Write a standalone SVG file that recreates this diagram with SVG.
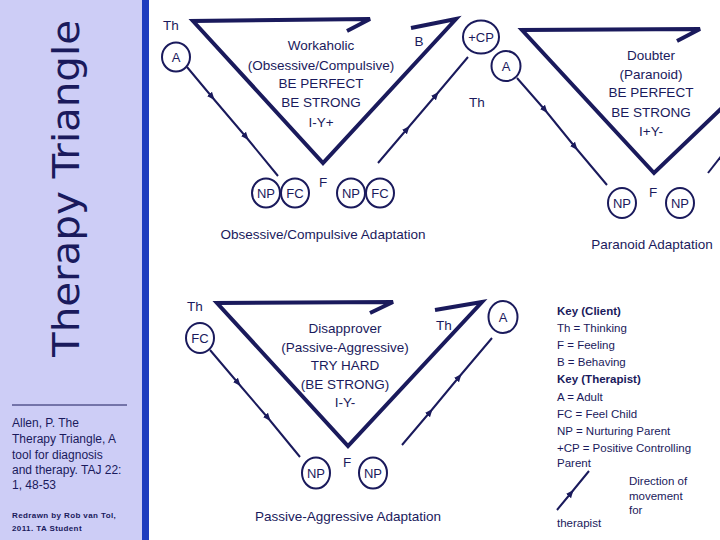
<svg xmlns="http://www.w3.org/2000/svg" width="720" height="540" viewBox="0 0 720 540">
<style>
  .tri{fill:none;stroke:#1a1a5c;stroke-width:4;stroke-linejoin:miter;stroke-linecap:butt}
  .tl{fill:none;stroke:#1a1a5c;stroke-width:2;marker-mid:url(#tick)}
  .nd{fill:#fff;stroke:#1a1a5c;stroke-width:2}
  text{font-family:"Liberation Sans",Arial,sans-serif;fill:#1a1a5c}
  .t{font-size:13.5px;text-anchor:middle}
  .c{font-size:13px;text-anchor:middle}
  .k{font-size:11.5px}
  .kb{font-size:11.5px;font-weight:bold}
  .cit{font-size:12px}
</style>
<defs>
  <marker id="tick" markerUnits="userSpaceOnUse" markerWidth="8" markerHeight="8" refX="3" refY="3" orient="auto" viewBox="0 0 6 6">
    <path d="M0,0.5 L6,3 L0,5.5 z" fill="#1a1a5c"/>
  </marker>
</defs>

<g id="sidebar">
  <rect x="0" y="0" width="142" height="540" fill="#cdcdf6"/>
  <rect x="142" y="0" width="7" height="540" fill="#1e3cbf"/>
  <text transform="translate(79,357) rotate(-90)" font-family="DejaVu Sans, sans-serif" style="font-family:'DejaVu Sans',sans-serif;font-size:38px" textLength="337" lengthAdjust="spacingAndGlyphs">Therapy Triangle</text>
  <line x1="12" y1="405" x2="127" y2="405" stroke="#1a1a5c" stroke-width="1"/>
  <text class="cit" x="12" y="427">Allen, P. The</text>
  <text class="cit" x="12" y="443">Therapy Triangle, A</text>
  <text class="cit" x="12" y="459">tool for diagnosis</text>
  <text class="cit" x="12" y="474">and therapy. TAJ 22:</text>
  <text class="cit" x="12" y="489">1, 48-53</text>
  <text x="12" y="518" style="font-size:8px;font-weight:bold" letter-spacing="0.4">Redrawn by Rob van Tol,</text>
  <text x="12" y="531" style="font-size:8px;font-weight:bold" letter-spacing="0.4">2011. TA Student</text>
</g>

<g id="connectors">
  <path class="tri" d="M347,31 L370,19 L193,21 L323,163 L456,19 L411,28"/>
  <path class="tri" d="M677,41 L700,29 L522,30 L654,173 L770,62"/>
  <path class="tri" d="M370,313 L393,302 L217,303 L348,446 L482,302 L435,310"/>
  <path class="tl" d="M187,67 L212,97 L246,137 L278,176"/>
  <path class="tl" d="M378,163 L407,129 L436,95 L468,57"/>
  <path class="tl" d="M517,78 L545,110 L575,147 L607,185"/>
  <path class="tl" d="M708,173 L730,145"/>
  <path class="tl" d="M210,350 L238,383 L268,418 L300,457"/>
  <path class="tl" d="M402,445 L430,412 L459,377 L492,338"/>
  <path class="tl" d="M557,510 L571,493 L589,471"/>
</g>

<g id="oc-labels">
  <text class="t" x="171" y="30">Th</text>
  <text class="t" x="419" y="46">B</text>
  <text class="t" x="323" y="187">F</text>
  <text class="t" x="477" y="107">Th</text>
  <text class="t" x="321" y="50">Workaholic</text>
  <text class="t" x="321" y="70">(Obsessive/Compulsive)</text>
  <text class="t" x="321" y="88">BE PERFECT</text>
  <text class="t" x="321" y="107">BE STRONG</text>
  <text class="t" x="321" y="127">I-Y+</text>
  <text class="t" x="323" y="239">Obsessive/Compulsive Adaptation</text>
</g>
<g id="oc-A"><ellipse class="nd" cx="176" cy="57" rx="14" ry="14.5"/><text class="c" x="176" y="62">A</text></g>
<g id="oc-NP1"><ellipse class="nd" cx="266" cy="193" rx="14" ry="14.5"/><text class="c" x="266" y="198">NP</text></g>
<g id="oc-FC1"><ellipse class="nd" cx="295" cy="193" rx="14" ry="14.5"/><text class="c" x="295" y="198">FC</text></g>
<g id="oc-NP2"><ellipse class="nd" cx="351" cy="193" rx="14" ry="14.5"/><text class="c" x="351" y="198">NP</text></g>
<g id="oc-FC2"><ellipse class="nd" cx="380" cy="193" rx="14" ry="14.5"/><text class="c" x="380" y="198">FC</text></g>
<g id="CP"><ellipse class="nd" cx="481" cy="37" rx="18" ry="16.5"/><text class="c" x="481" y="42">+CP</text></g>
<g id="p-A"><ellipse class="nd" cx="506" cy="66" rx="14.5" ry="15"/><text class="c" x="506" y="71">A</text></g>

<g id="p-labels">
  <text class="t" x="653" y="197">F</text>
  <text class="t" x="651" y="60">Doubter</text>
  <text class="t" x="651" y="79">(Paranoid)</text>
  <text class="t" x="651" y="97">BE PERFECT</text>
  <text class="t" x="651" y="117">BE STRONG</text>
  <text class="t" x="651" y="136">I+Y-</text>
  <text class="t" x="652" y="249">Paranoid Adaptation</text>
</g>
<g id="p-NP1"><ellipse class="nd" cx="622" cy="203" rx="14" ry="15"/><text class="c" x="622" y="208">NP</text></g>
<g id="p-NP2"><ellipse class="nd" cx="680" cy="203" rx="14" ry="15"/><text class="c" x="680" y="208">NP</text></g>

<g id="pa-labels">
  <text class="t" x="195" y="311">Th</text>
  <text class="t" x="444" y="330">Th</text>
  <text class="t" x="347" y="467">F</text>
  <text class="t" x="345" y="333">Disapprover</text>
  <text class="t" x="345" y="352">(Passive-Aggressive)</text>
  <text class="t" x="345" y="370">TRY HARD</text>
  <text class="t" x="345" y="389">(BE STRONG)</text>
  <text class="t" x="345" y="407">I-Y-</text>
  <text class="t" x="348" y="521">Passive-Aggressive Adaptation</text>
</g>
<g id="pa-FC"><ellipse class="nd" cx="200" cy="338" rx="14" ry="15"/><text class="c" x="200" y="343">FC</text></g>
<g id="pa-A"><ellipse class="nd" cx="503" cy="317" rx="14.5" ry="16"/><text class="c" x="503" y="322">A</text></g>
<g id="pa-NP1"><ellipse class="nd" cx="316" cy="473" rx="14" ry="15.5"/><text class="c" x="316" y="478">NP</text></g>
<g id="pa-NP2"><ellipse class="nd" cx="373" cy="473" rx="14" ry="15.5"/><text class="c" x="373" y="478">NP</text></g>

<g id="key">
  <text class="kb" x="557" y="315">Key (Client)</text>
  <text class="k" x="557" y="332">Th = Thinking</text>
  <text class="k" x="557" y="349">F = Feeling</text>
  <text class="k" x="557" y="366">B = Behaving</text>
  <text class="kb" x="557" y="383">Key (Therapist)</text>
  <text class="k" x="557" y="401">A = Adult</text>
  <text class="k" x="557" y="418">FC = Feel Child</text>
  <text class="k" x="557" y="435">NP = Nurturing Parent</text>
  <text class="k" x="557" y="452">+CP = Positive Controlling</text>
  <text class="k" x="557" y="467">Parent</text>
  <text class="k" x="629" y="485">Direction of</text>
  <text class="k" x="629" y="500">movement</text>
  <text class="k" x="629" y="514">for</text>
  <text class="k" x="557" y="527">therapist</text>
</g>
</svg>
